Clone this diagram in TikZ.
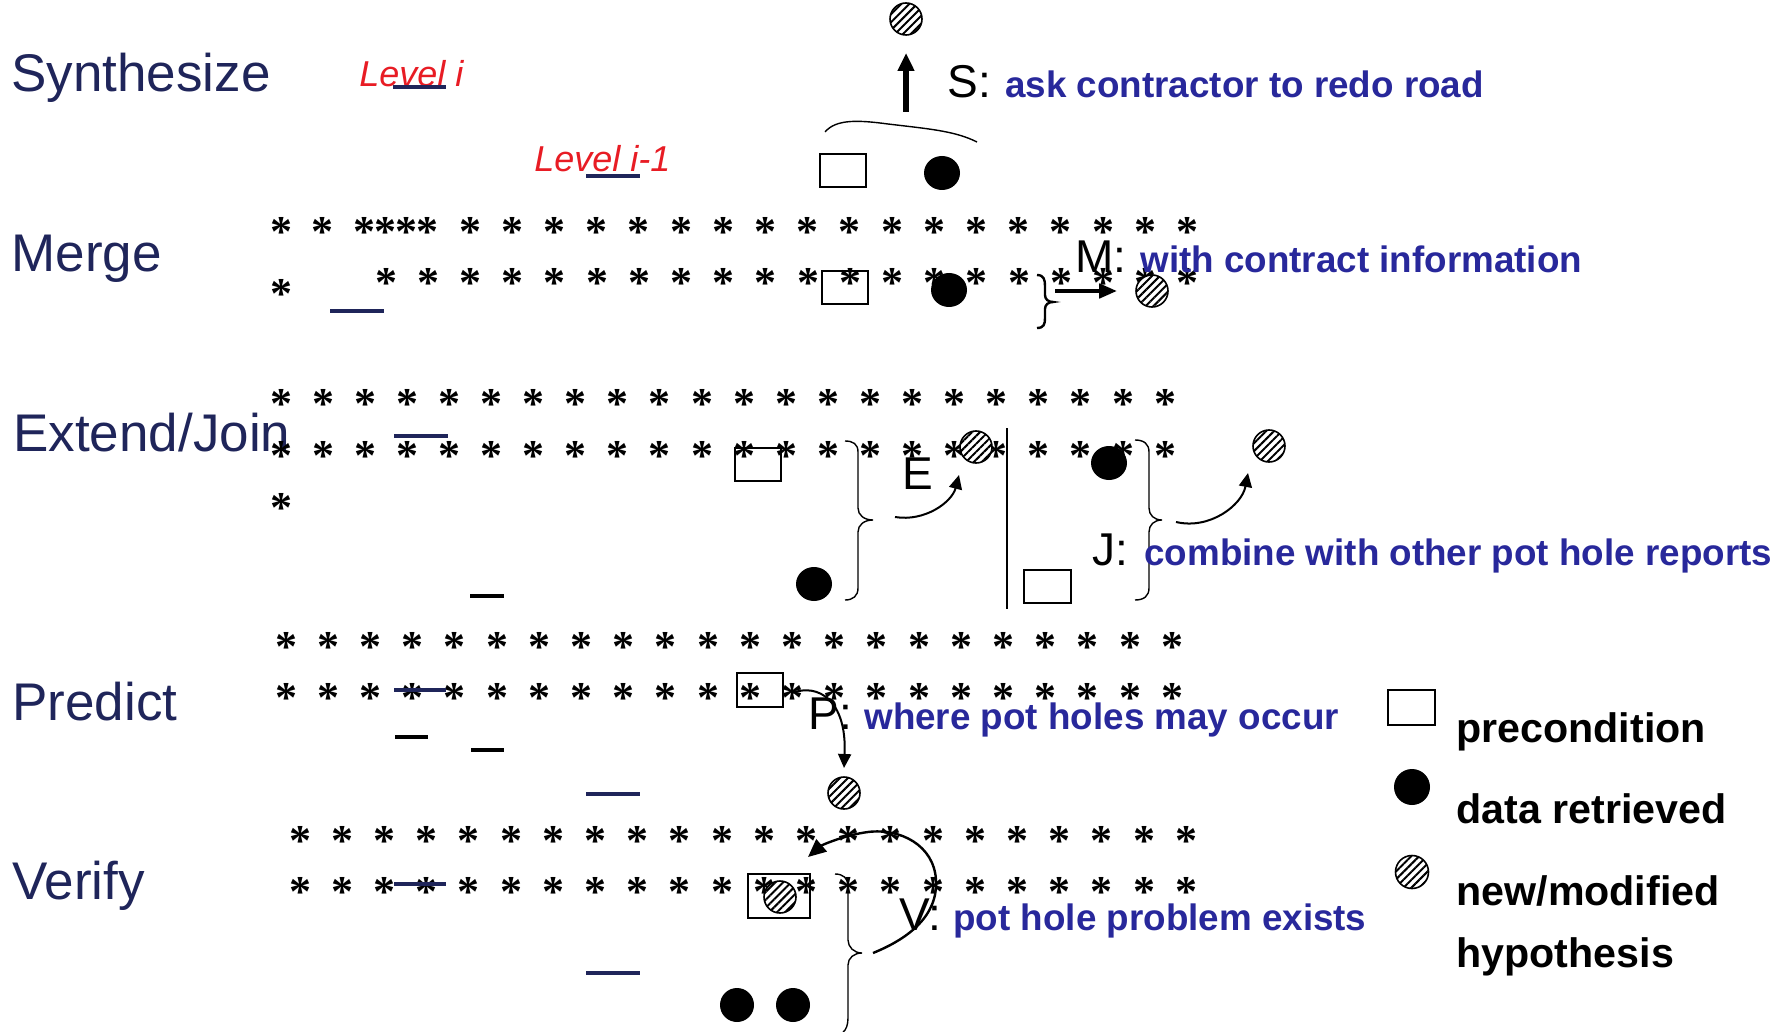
\documentclass[tikz,border=0pt]{standalone}
\usepackage{fontspec}
\setmainfont{Liberation Sans}
\newfontfamily\starfont{Liberation Serif}
\usetikzlibrary{arrows.meta,shapes.geometric,patterns.meta}

\definecolor{navy}{RGB}{31,37,90}
\definecolor{lvlred}{RGB}{232,28,36}
\definecolor{noteblue}{RGB}{40,40,155}

\tikzset{
  rowlabel/.style={anchor=base west,inner sep=0,text=navy,font=\fontsize{26.5}{26.5}\selectfont},
  oplabel/.style={anchor=base west,inner sep=0,text=black,font=\fontsize{23}{23}\selectfont},
  note/.style={anchor=base west,inner sep=0,text=noteblue,font=\fontsize{18.4}{18.4}\selectfont\bfseries},
  lvl/.style={anchor=base west,inner sep=0,text=lvlred,font=\fontsize{18}{18}\selectfont\itshape},
  legendtext/.style={anchor=base west,inner sep=0,font=\fontsize{20.6}{20.6}\selectfont\bfseries},
  st/.style={anchor=base,inner sep=0,yshift=-11pt,font=\starfont\bfseries\fontsize{22}{22}\selectfont},
  bar/.style={line width=2pt,navy},
  blackbar/.style={line width=2pt,black},
  pre/.style={draw,line width=1pt,inner sep=0,minimum width=23pt,minimum height=16.5pt},
  dat/.style={ellipse,fill=black,inner sep=0,minimum width=18pt,minimum height=17pt},
  hyp/.style={circle,draw,line width=0.8pt,inner sep=0,minimum size=16pt,
    preaction={fill=white},pattern={Lines[angle=45,distance=2.8pt,line width=1pt]}},
  curvarrow/.style={line width=1pt,-{Triangle[length=7pt,width=6.5pt]}},
  bracepath/.style={line width=0.7pt},
}

\begin{document}
\begin{tikzpicture}[x=0.5pt,y=-0.5pt]
\fill[white] (0,0) rectangle (1783,1032);
\useasboundingbox (0,0) rectangle (1783,1032);

% level names
\node[rowlabel] (synth)  at (11,92)  {Synthesize};
\node[rowlabel] (merge)  at (11,272) {Merge};
\node[rowlabel] (extend) at (13,451) {Extend/Join};
\node[rowlabel] (pred)   at (12,720) {Predict};
\node[rowlabel] (verify) at (12,899) {Verify};

\node[lvl] (lvli)  at (359,87)  {Level i};
\node[lvl] (lvli1) at (534,172) {Level i-1};
\draw[bar] (393,87) -- (446,87);
\draw[bar] (586,176) -- (640,176);

% rows of the blackboard
\foreach \x [count=\i] in {281,322,364,385,406,427}
  \node[st] (ma\i) at (\x,225) {*};
\foreach \k in {0,...,17}
  \node[st] (mb\k) at ({470+42.2*\k},225) {*};
\node[st] (mc) at (281,286) {*};
\foreach \k in {0,...,19}
  \node[st] (md\k) at ({386+42.2*\k},276) {*};

\foreach \k in {0,...,21}
  \node[st] (ea\k) at ({281+42.1*\k},396) {*};
\foreach \k in {0,...,21}
  \node[st] (eb\k) at ({281+42.1*\k},448) {*};
\node[st] (ec) at (281,500) {*};

\foreach \k in {0,...,21}
  \node[st] (pa\k) at ({286+42.2*\k},639) {*};
\foreach \k in {0,...,21}
  \node[st] (pb\k) at ({286+42.2*\k},690) {*};

\foreach \k in {0,...,21}
  \node[st] (va\k) at ({300+42.2*\k},833) {*};
\foreach \k in {0,...,21}
  \node[st] (vb\k) at ({300+42.2*\k},884) {*};

% level markers
\draw[bar] (330,311) -- (384,311);
\draw[bar] (394,436) -- (448,436);
\draw[bar] (394,690) -- (446,690);
\draw[bar] (586,794) -- (640,794);
\draw[bar] (394,884) -- (446,884);
\draw[bar] (586,973) -- (640,973);
\draw[blackbar] (470,596) -- (504,596);
\draw[blackbar] (395,737) -- (428,737);
\draw[blackbar] (471,750) -- (504,750);

% Synthesize
\node[pre] (sq1) at (843,170.5) {};
\node[dat] (d1) at (942,173) {};
\node[hyp] (h1) at (906,19) {};
\draw[bracepath] (825,132) .. controls (836,119) and (858,120) .. (888,124)
  .. controls (930,129) and (955,131) .. (977,142);
\coordinate (sArc) at (906,112);
\draw[line width=3pt,-{Triangle[length=9pt,width=8pt]},shorten >=8.5pt] (sArc) -- (h1.south);
\node[oplabel] (S) at (947,98) {S:};
\node[note] (Snote) at (1005,98) {ask contractor to redo road};

% Merge
\node[pre] (sq2) at (845,287.5) {};
\node[dat] (d2) at (949,290) {};
\draw[line width=1.2pt] (1037,275) .. controls (1044,275) and (1045,280) .. (1045,286)
  -- (1045,295) .. controls (1045,299) and (1048,302) .. (1053,302)
  .. controls (1048,302) and (1045,305) .. (1045,309) -- (1045,318)
  .. controls (1045,324) and (1044,328) .. (1037,328);
\node[hyp] (h2) at (1152,291) {};
\coordinate (mBrace) at (1055,291);
\draw[line width=2.2pt,-{Triangle[length=9pt,width=7pt]},shorten >=9pt] (mBrace) -- (h2.west);
\node[oplabel] (M) at (1075,273) {M:};
\node[note] (Mnote) at (1140,273) {with contract information};

% Extend / Join
\node[pre] (sq3) at (758,464.5) {};
\node[dat] (d3) at (814,584) {};
\draw[bracepath] (845,441) .. controls (853,441) and (858,444) .. (858,452)
  -- (858,508) .. controls (858,515) and (864,520) .. (873,520)
  .. controls (864,520) and (858,525) .. (858,532) -- (858,588)
  .. controls (858,596) and (853,600) .. (845,600);
\node[hyp] (h3) at (976,447) {};
\coordinate (eFrom) at (895,517);
\coordinate (eTip) at (959,475);
\draw[curvarrow] (eFrom) .. controls (925,522) and (952,502) .. (eTip);
\node[oplabel] (E) at (902,489) {E};

\draw[line width=1pt] (1007,428) -- (1007,609);

\node[dat] (d4) at (1109,463) {};
\node[pre,minimum width=23.5pt] (sq4) at (1047.5,586.5) {};
\draw[bracepath] (1135,440) .. controls (1144,440) and (1149,444) .. (1149,452)
  -- (1149,508) .. controls (1149,515) and (1154,520) .. (1162,520)
  .. controls (1154,520) and (1149,525) .. (1149,532) -- (1149,588)
  .. controls (1149,596) and (1144,600) .. (1135,600);
\node[hyp] (h4) at (1269,446) {};
\coordinate (jFrom) at (1176,522);
\coordinate (jTip) at (1248,473);
\draw[curvarrow] (jFrom) .. controls (1210,530) and (1242,505) .. (jTip);
\node[oplabel] (J) at (1092,565) {J:};
\node[note] (Jnote) at (1144,565) {combine with other pot hole reports};

% Predict
\node[pre,minimum height=17pt] (sq5) at (760,690) {};
\node[hyp] (h5) at (844,793) {};
\coordinate (pFrom) at (792,693);
\coordinate (pTip) at (844,768);
\draw[curvarrow] (pFrom) .. controls (818,683) and (847,700) .. (pTip);
\node[oplabel] (P) at (808,729) {P:};
\node[note] (Pnote) at (864,729) {where pot holes may occur};

% Verify
\node[pre,minimum width=31pt,minimum height=22pt] (sq6) at (779,896) {};
\node[hyp] (h6) at (780,897) {};
\node[dat,minimum width=17pt] (d5) at (737,1005) {};
\node[dat,minimum width=17pt] (d6) at (793,1005) {};
\draw[bracepath] (835,874) .. controls (843,874) and (848,878) .. (848,886)
  -- (848,940) .. controls (848,947) and (854,953) .. (862,953)
  .. controls (854,953) and (848,958) .. (848,965) -- (848,1018)
  .. controls (848,1025) and (846,1030) .. (843,1032);
\coordinate (vFrom) at (873,953);
\coordinate (vTip) at (808,857);
\draw[line width=1.2pt,-{Triangle[length=9pt,width=8pt]}] (vFrom)
  .. controls (910,938) and (938,915) .. (936,880)
  .. controls (934,845) and (900,828) .. (868,832)
  .. controls (845,835) and (822,845) .. (vTip);
\node[oplabel] (V) at (899,930) {V:};
\node[note] (Vnote) at (953,930) {pot hole problem exists};

% key
\node[pre,minimum width=23.5pt,minimum height=17.5pt] (keyPre) at (1411.5,707.5) {};
\node[dat,minimum width=18pt,minimum height=18pt] (keyDat) at (1412,787) {};
\node[hyp,minimum size=16.5pt] (keyHyp) at (1412,872) {};
\node[legendtext] (kt1) at (1456,742) {precondition};
\node[legendtext] (kt2) at (1456,823) {data retrieved};
\node[legendtext] (kt3) at (1456,905) {new/modified};
\node[legendtext] (kt4) at (1456,967) {hypothesis};
\end{tikzpicture}
\end{document}
